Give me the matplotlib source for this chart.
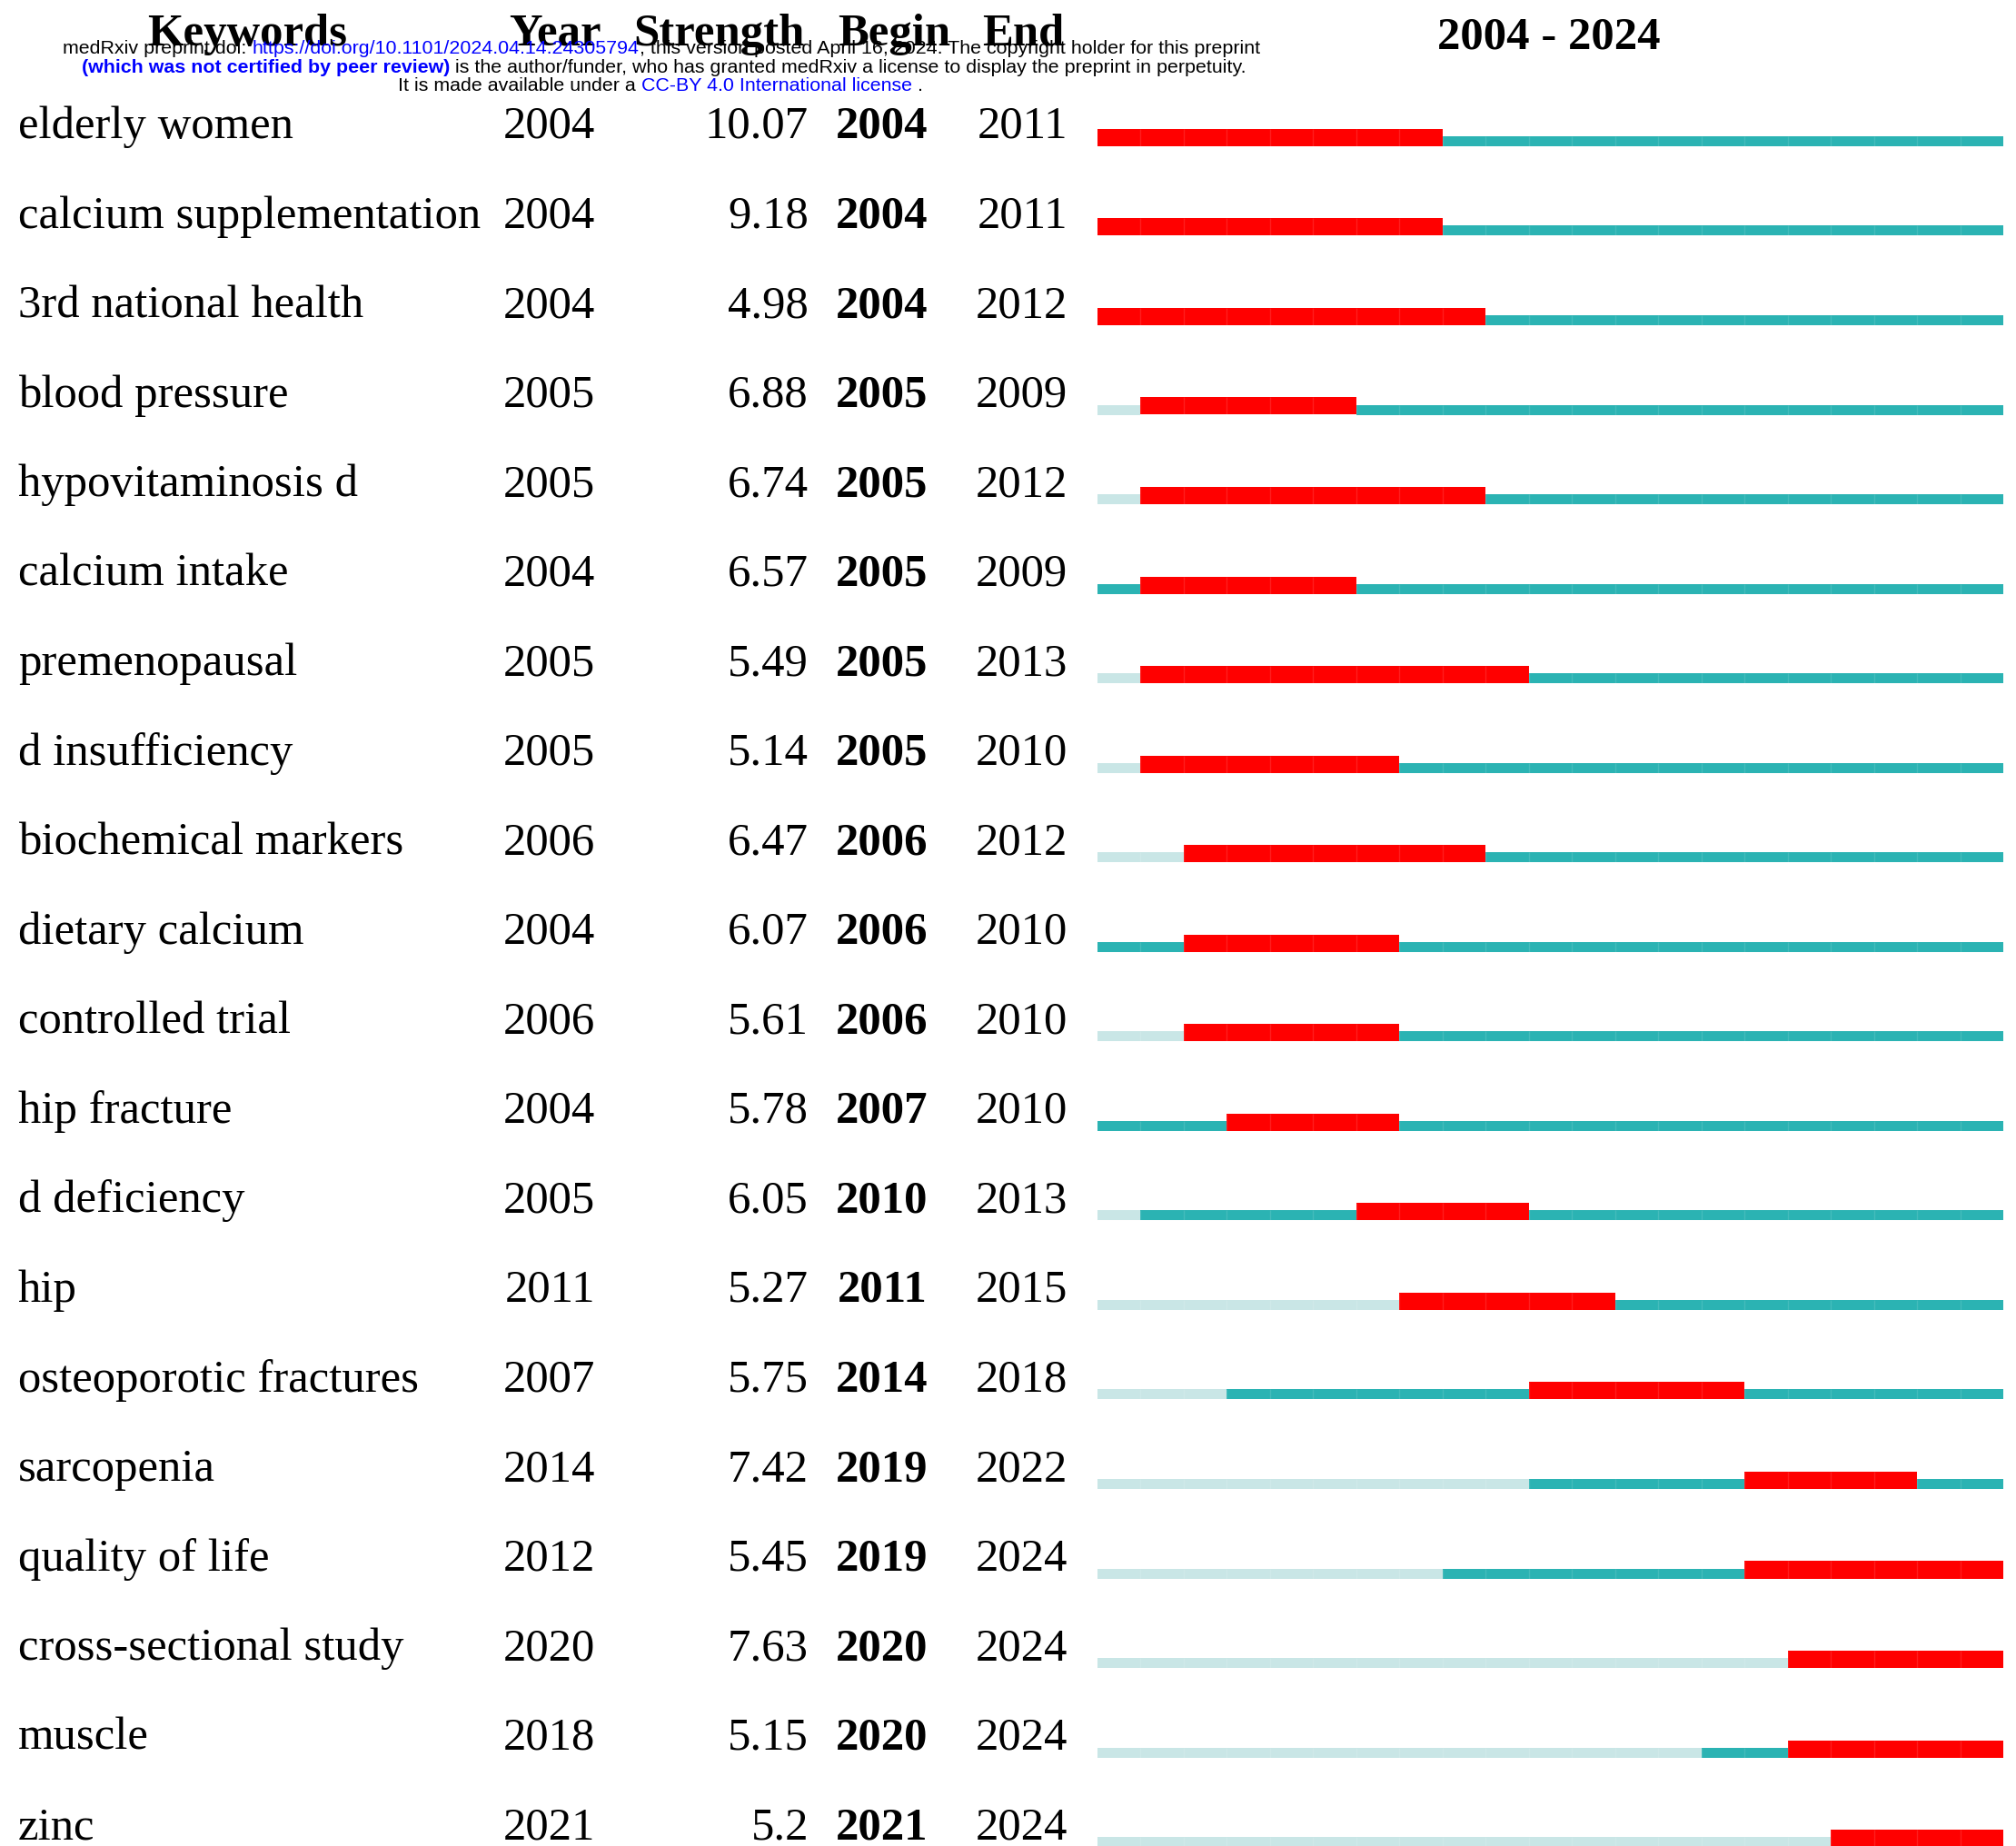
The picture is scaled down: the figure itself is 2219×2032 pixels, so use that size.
import matplotlib
matplotlib.use("Agg")
import matplotlib.pyplot as plt
import matplotlib.transforms as mtransforms

# ---------------- data ----------------
keywords = ["elderly women", "calcium supplementation", "3rd national health",
            "blood pressure", "hypovitaminosis d", "calcium intake", "premenopausal",
            "d insufficiency", "biochemical markers", "dietary calcium",
            "controlled trial", "hip fracture", "d deficiency", "hip",
            "osteoporotic fractures", "sarcopenia", "quality of life",
            "cross-sectional study", "muscle", "zinc"]
first_year = [2004, 2004, 2004, 2005, 2005, 2004, 2005, 2005, 2006, 2004,
              2006, 2004, 2005, 2011, 2007, 2014, 2012, 2020, 2018, 2021]
strength = [10.07, 9.18, 4.98, 6.88, 6.74, 6.57, 5.49, 5.14, 6.47, 6.07,
            5.61, 5.78, 6.05, 5.27, 5.75, 7.42, 5.45, 7.63, 5.15, 5.2]
burst_begin = [2004, 2004, 2004, 2005, 2005, 2005, 2005, 2005, 2006, 2006,
               2006, 2007, 2010, 2011, 2014, 2019, 2019, 2020, 2020, 2021]
burst_end = [2011, 2011, 2012, 2009, 2012, 2009, 2013, 2010, 2012, 2010,
             2010, 2010, 2013, 2015, 2018, 2022, 2024, 2024, 2024, 2024]
range_start, range_end = 2004, 2024
headers = ["Keywords", "Year", "Strength", "Begin", "End"]

# ---------------- layout ----------------
W, H = 2219, 2033
fig = plt.figure(figsize=(W / 100, H / 100), dpi=100)
fig.patch.set_facecolor("white")

BAR_L, BAR_R = 1208, 2205
ROW0, ROWSTEP = 156.4, 98.54
ax = fig.add_axes([BAR_L / W, 0, (BAR_R - BAR_L) / W, 1])
ax.set_xlim(range_start, range_end + 1)
ax.set_ylim((H - ROW0) / ROWSTEP, -ROW0 / ROWSTEP)
ax.axis("off")

LIGHT, TEAL, RED = "#c9e6e6", "#2bb3b3", "#ff0000"
TH, RH, ROFF = 0.112, 0.193, 0.041

for i, (fy, b, e) in enumerate(zip(first_year, burst_begin, burst_end)):
    for yr in range(range_start, range_end + 1):
        if b <= yr <= e:
            ax.barh(i - ROFF, 1, left=yr, height=RH, color=RED, linewidth=0)
        else:
            c = LIGHT if yr < fy else TEAL
            ax.barh(i, 1, left=yr, height=TH, color=c, linewidth=0)
    # faint cell separators
    for yr in range(range_start + 1, range_end + 1):
        red = b <= yr <= e or b <= yr - 1 <= e
        h = RH if red else TH
        c0 = (i - ROFF) if red else i
        ax.vlines(yr, c0 - h / 2, c0 + h / 2, color="white", alpha=0.12, linewidth=1)

# ---------------- text columns ----------------
tr = mtransforms.blended_transform_factory(fig.transFigure, ax.transData)
SERIF = "Liberation Serif"
FS = 36.5
BASE = 0.045
for i in range(len(keywords)):
    y = i - BASE
    ax.text(20 / W, y, keywords[i], transform=tr, ha="left", va="baseline",
            fontsize=FS, family=SERIF, clip_on=False)
    ax.text(655 / W, y, str(first_year[i]), transform=tr, ha="right", va="baseline",
            fontsize=FS, family=SERIF, clip_on=False)
    ax.text(890 / W, y, f"{strength[i]:g}", transform=tr, ha="right", va="baseline",
            fontsize=FS, family=SERIF, clip_on=False)
    ax.text(1021 / W, y, str(burst_begin[i]), transform=tr, ha="right", va="baseline",
            fontsize=FS, family=SERIF, fontweight="bold", clip_on=False)
    ax.text(1175 / W, y, str(burst_end[i]), transform=tr, ha="right", va="baseline",
            fontsize=FS, family=SERIF, clip_on=False)

# headers
HB = 1 - 50 / H
for label, cx in zip(headers, [272, 611, 792, 984, 1126]):
    fig.text(cx / W, HB, label, ha="center", va="baseline", fontsize=36.5,
             family=SERIF, fontweight="bold")
fig.text(1705 / W, 1 - 53 / H, f"{range_start} - {range_end}", ha="center",
         va="baseline", fontsize=36.5, family=SERIF, fontweight="bold")

# ---------------- medRxiv overlay ----------------
BLUE = "#0000ff"
renderer = fig.canvas.get_renderer()


def centered_line(parts, cx, ybase, size=15.4):
    items = []
    for s, color, weight in parts:
        t = fig.text(0, 1 - ybase / H, s, color=color, fontweight=weight,
                     fontsize=size, family=["Liberation Sans", "DejaVu Sans"],
                     ha="left", va="baseline")
        w = t.get_window_extent(renderer).width
        items.append((t, w))
    total = sum(w for _, w in items)
    x = cx - total / 2
    for t, w in items:
        t.set_x(x / W)
        x += w


centered_line([("medRxiv preprint doi: ", "black", "normal"),
               ("https://doi.org/10.1101/2024.04.14.24305794", BLUE, "normal"),
               ("; this version posted April 16, 2024. The copyright holder for this preprint",
                "black", "normal")], 728, 59)
centered_line([("(which was not certified by peer review)", BLUE, "bold"),
               (" is the author/funder, who has granted medRxiv a license to display the preprint in perpetuity.",
                "black", "normal")], 731, 79.5)
centered_line([("It is made available under a ", "black", "normal"),
               ("CC-BY 4.0 International license", BLUE, "normal"),
               (" .", "black", "normal")], 727, 100)

fig.savefig("out.png", dpi=100, facecolor="white")
